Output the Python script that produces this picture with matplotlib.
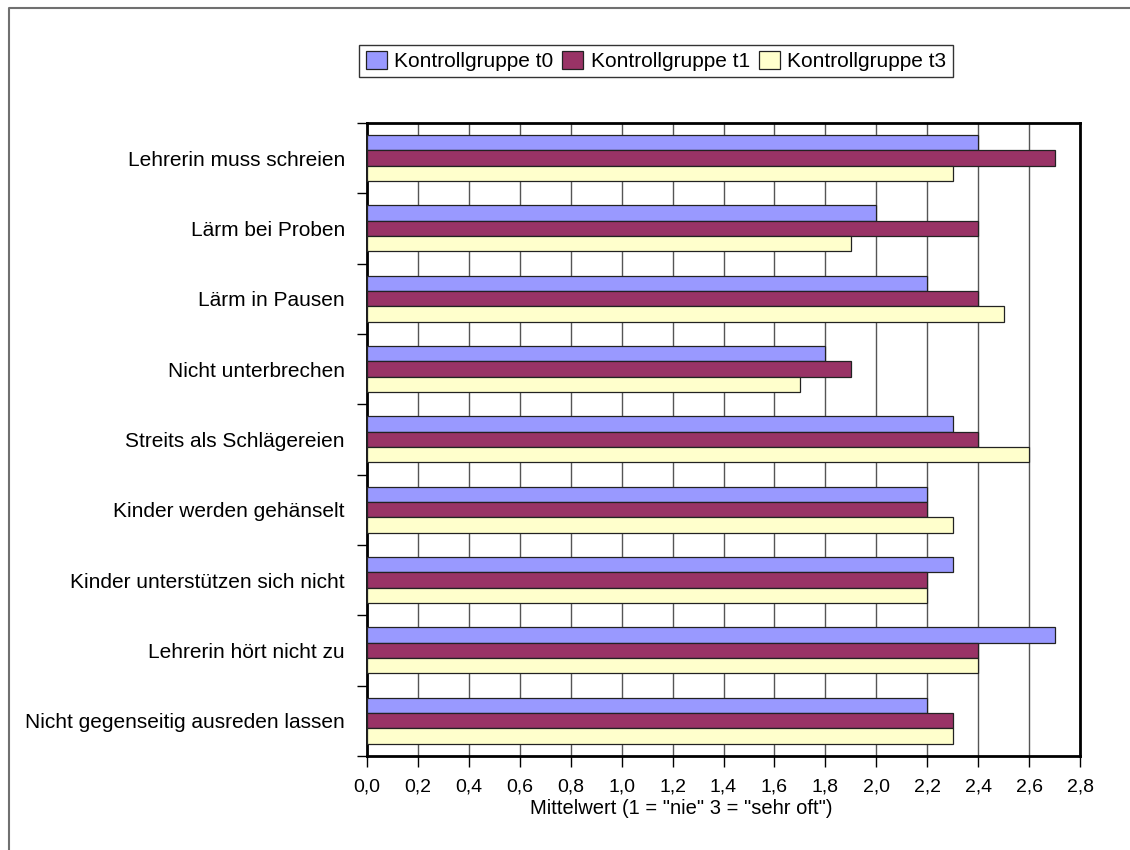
import numpy as np
import matplotlib.pyplot as plt
from matplotlib.lines import Line2D

plt.rcParams['font.family'] = ['Liberation Sans', 'DejaVu Sans']

categories = [
    "Lehrerin muss schreien",
    "Lärm bei Proben",
    "Lärm in Pausen",
    "Nicht unterbrechen",
    "Streits als Schlägereien",
    "Kinder werden gehänselt",
    "Kinder unterstützen sich nicht",
    "Lehrerin hört nicht zu",
    "Nicht gegenseitig ausreden lassen",
]
t0 = [2.4, 2.0, 2.2, 1.8, 2.3, 2.2, 2.3, 2.7, 2.2]
t1 = [2.7, 2.4, 2.4, 1.9, 2.4, 2.2, 2.2, 2.4, 2.3]
t3 = [2.3, 1.9, 2.5, 1.7, 2.6, 2.3, 2.2, 2.4, 2.3]
series_names = ["Kontrollgruppe t0", "Kontrollgruppe t1", "Kontrollgruppe t3"]
colors = ["#9999FF", "#993366", "#FFFFCC"]
xticks = np.arange(0, 2.81, 0.2)

fig = plt.figure(figsize=(11.3, 8.5), dpi=100)
ax = fig.add_axes([0.3248, 0.1106, 0.6310, 0.7447])

# chart frame: only the left and top edges fall inside the image
fig.lines.append(Line2D([8.5 / 1130, 8.5 / 1130, 1.0], [0.0, 1 - 7.5 / 850, 1 - 7.5 / 850],
                        transform=fig.transFigure, color="#707070", linewidth=1.5))

y = np.arange(len(categories))
h = 0.218
for i, (vals, name, c) in enumerate(zip([t0, t1, t3], series_names, colors)):
    ax.barh(y + (i - 1) * h, vals, height=h, color=c, edgecolor="#222222",
            linewidth=0.9, label=name, zorder=3)

ax.set_ylim(len(categories) - 0.5, -0.5)
ax.set_xlim(0, 2.8)
ax.set_xticks(xticks)
ax.set_xticklabels([f"{v:.1f}".replace(".", ",") for v in xticks], fontsize=14)
ax.set_yticks(y)
ax.set_yticklabels(categories, fontsize=15)
ax.set_yticks(np.arange(-0.5, len(categories), 1), minor=True)
ax.tick_params(axis="y", which="major", length=0, pad=16)
ax.tick_params(axis="y", which="minor", length=7, width=1, direction="out")
ax.tick_params(axis="x", length=8, width=1, direction="out", pad=8)

ax.grid(axis="x", color="#555555", linewidth=1.0, zorder=0)
ax.set_axisbelow(True)
for s in ax.spines.values():
    s.set_linewidth(2)
    s.set_color("black")

ax.set_xlabel('Mittelwert (1 = "nie" 3 = "sehr oft")', fontsize=14.5, labelpad=3)
ax.xaxis.label.set_x(0.44)

leg = fig.legend(loc="center", bbox_to_anchor=(656 / 1130, 1 - 61 / 850), ncol=3,
                 fontsize=15, frameon=True, fancybox=False, handlelength=1.0,
                 handleheight=1.0, handletextpad=0.35, columnspacing=0.45,
                 borderpad=0.3, borderaxespad=0, edgecolor="black")
leg.get_frame().set_linewidth(1.0)

plt.savefig("out.png", dpi=100)
